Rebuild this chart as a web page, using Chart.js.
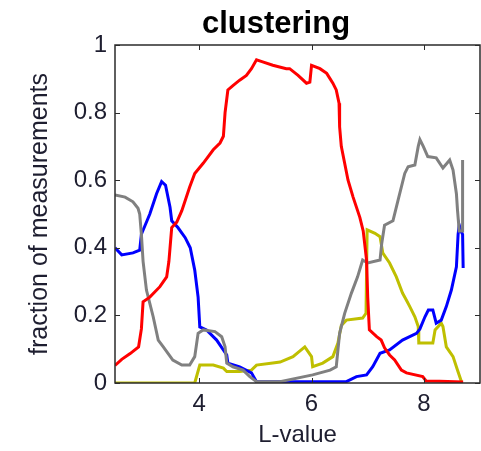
<!DOCTYPE html>
<html lang="en">
<head>
  <meta charset="UTF-8" />
  <title>clustering</title>
  <script src="https://cdn.jsdelivr.net/npm/chart.js"></script>
  <style>
    body { margin: 0; background: #fff; }
    #wrap { width: 481px; height: 451px; }
  </style>
</head>
<body>
  <div id="wrap"><canvas id="chart" width="481" height="451"></canvas></div>

  <script>
    // values (L-value, fraction)
    const redL = [2.5,2.62,2.77,2.92,2.97,3.0,3.12,3.3,3.42,3.46,3.51,3.6,3.69,3.83,3.92,4.07,4.25,4.37,4.43,4.46,4.51,4.6,4.72,4.84,4.93,5.02,5.13,5.31,5.55,5.61,5.76,5.91,5.97,6.0,6.15,6.27,6.38,6.44,6.49,6.5,6.53,6.59,6.65,6.74,6.82,6.86,6.92,6.98,7.0,7.03,7.16,7.24,7.3,7.39,7.48,7.6,7.69,7.98,8.04,8.28,8.7];
    const redFrac = [0.052,0.07,0.087,0.107,0.16,0.24,0.254,0.285,0.314,0.36,0.46,0.476,0.51,0.58,0.62,0.65,0.69,0.71,0.73,0.80,0.867,0.88,0.896,0.91,0.93,0.956,0.95,0.94,0.93,0.93,0.91,0.887,0.89,0.94,0.93,0.916,0.887,0.867,0.828,0.758,0.70,0.65,0.60,0.55,0.51,0.49,0.45,0.364,0.255,0.157,0.137,0.127,0.104,0.083,0.068,0.038,0.03,0.019,0.006,0.005,0.003];

    const blueL = [2.5,2.62,2.82,2.94,2.97,3.12,3.24,3.33,3.4,3.48,3.51,3.62,3.75,3.84,3.92,3.98,4.01,4.13,4.31,4.49,4.51,4.72,4.93,5.02,6.62,6.8,6.98,7.09,7.22,7.39,7.62,7.87,7.93,8.02,8.08,8.16,8.22,8.31,8.4,8.49,8.58,8.61,8.63,8.66,8.69,8.7];
    const blueFrac = [0.40,0.379,0.385,0.393,0.44,0.50,0.56,0.596,0.585,0.52,0.48,0.46,0.43,0.40,0.334,0.254,0.166,0.157,0.127,0.083,0.059,0.048,0.03,0.004,0.004,0.019,0.024,0.048,0.088,0.098,0.127,0.147,0.16,0.196,0.216,0.216,0.177,0.186,0.226,0.275,0.344,0.44,0.467,0.45,0.44,0.34];

    const greyL = [2.5,2.68,2.82,2.91,2.94,2.97,3.0,3.06,3.18,3.27,3.36,3.53,3.69,3.83,3.92,3.98,4.07,4.28,4.4,4.46,4.49,4.6,4.78,4.9,5.02,5.44,6.02,6.33,6.44,6.5,6.59,6.71,6.82,6.91,7.0,7.22,7.25,7.3,7.45,7.54,7.66,7.72,7.84,7.9,7.93,7.99,8.07,8.22,8.34,8.46,8.52,8.58,8.6,8.63,8.68,8.69];
    const greyFrac = [0.556,0.55,0.536,0.517,0.50,0.44,0.36,0.275,0.196,0.127,0.107,0.068,0.053,0.053,0.078,0.147,0.157,0.152,0.137,0.107,0.059,0.048,0.038,0.019,0.004,0.004,0.024,0.038,0.048,0.147,0.206,0.266,0.314,0.364,0.355,0.364,0.413,0.467,0.48,0.54,0.62,0.64,0.645,0.70,0.72,0.70,0.67,0.666,0.636,0.66,0.63,0.56,0.51,0.45,0.45,0.66];

    const oliveL = [2.5,3.92,4.01,4.25,4.43,4.49,4.72,4.93,5.02,5.31,5.44,5.67,5.88,6.0,6.02,6.2,6.38,6.47,6.53,6.62,6.91,6.97,6.99,7.13,7.22,7.27,7.39,7.51,7.62,7.69,7.75,7.84,7.9,7.91,8.16,8.2,8.31,8.34,8.4,8.52,8.6,8.67];
    const oliveFrac = [0,0,0.053,0.053,0.044,0.034,0.034,0.038,0.053,0.059,0.062,0.078,0.107,0.078,0.048,0.059,0.078,0.118,0.17,0.186,0.192,0.206,0.453,0.443,0.433,0.384,0.355,0.314,0.266,0.245,0.226,0.196,0.167,0.118,0.118,0.157,0.177,0.167,0.107,0.078,0.038,0.004];

    const xTicks = [4, 6, 8];
    const yTicks = [0, 0.2, 0.4, 0.6, 0.8, 1];
    const chartTitle = 'clustering';

    const toPoints = (xs, ys) => xs.map((x, i) => ({ x, y: ys[i] }));
    const font = "'Liberation Sans', Arial, sans-serif";
    const textColor = '#1e1e30';

    // matlab-like box with inward tick marks on all four sides, plus the title
    const framePlugin = {
      id: 'frame',
      afterDatasetsDraw(chart) {
        const { ctx, chartArea: a, scales: { x, y } } = chart;
        const len = 5;
        ctx.save();
        ctx.strokeStyle = '#2b2b2b';
        ctx.lineWidth = 1.5;
        ctx.strokeRect(a.left, a.top, a.right - a.left, a.bottom - a.top);
        ctx.lineWidth = 1;
        ctx.beginPath();
        xTicks.forEach(v => {
          const px = Math.round(x.getPixelForValue(v)) + 0.5;
          ctx.moveTo(px, a.bottom); ctx.lineTo(px, a.bottom - len);
          ctx.moveTo(px, a.top); ctx.lineTo(px, a.top + len);
        });
        yTicks.forEach(v => {
          const py = Math.round(y.getPixelForValue(v)) + 0.5;
          ctx.moveTo(a.left, py); ctx.lineTo(a.left + len, py);
          ctx.moveTo(a.right, py); ctx.lineTo(a.right - len, py);
        });
        ctx.stroke();

        // title sits a bit left of the plot centre, as in the original
        ctx.fillStyle = '#000';
        ctx.font = `bold 31px ${font}`;
        ctx.textAlign = 'center';
        ctx.textBaseline = 'alphabetic';
        ctx.fillText(chartTitle, 276, 33);
        ctx.restore();
      }
    };

    const line = (label, xs, ys, color) => ({
      label,
      data: toPoints(xs, ys),
      borderColor: color,
      borderWidth: 3,
      pointRadius: 0,
      fill: false,
      tension: 0
    });

    new Chart(document.getElementById('chart'), {
      type: 'line',
      data: {
        datasets: [
          line('red', redL, redFrac, '#ff0000'),
          line('grey', greyL, greyFrac, '#808080'),
          line('blue', blueL, blueFrac, '#0000ff'),
          line('olive', oliveL, oliveFrac, '#bfbf00')
        ]
      },
      options: {
        responsive: false,
        animation: false,
        devicePixelRatio: 1,
        layout: { padding: { left: 0, right: 1, top: 45, bottom: 0 } },
        plugins: {
          legend: { display: false },
          tooltip: { enabled: false },
          title: { display: false }
        },
        scales: {
          x: {
            type: 'linear',
            min: 2.5,
            max: 9,
            afterBuildTicks: axis => { axis.ticks = xTicks.map(v => ({ value: v })); },
            afterFit: axis => { axis.height = 68; },
            grid: { display: false, drawTicks: false },
            border: { display: false },
            ticks: { color: textColor, padding: 7, font: { family: font, size: 24 } },
            title: {
              display: true,
              text: 'L-value',
              color: textColor,
              font: { family: font, size: 24 },
              padding: { top: 0, bottom: 1 }
            }
          },
          y: {
            min: 0,
            max: 1,
            afterBuildTicks: axis => { axis.ticks = yTicks.map(v => ({ value: v })); },
            afterFit: axis => { axis.width = 115; },
            grid: { display: false, drawTicks: false },
            border: { display: false },
            ticks: {
              color: textColor,
              padding: 8,
              font: { family: font, size: 24 },
              callback: v => String(Math.round(v * 10) / 10)
            },
            title: {
              display: true,
              text: 'fraction of measurements',
              color: textColor,
              font: { family: font, size: 25 },
              padding: { top: 25, bottom: 0 }
            }
          }
        }
      },
      plugins: [framePlugin]
    });
  </script>
</body>
</html>
